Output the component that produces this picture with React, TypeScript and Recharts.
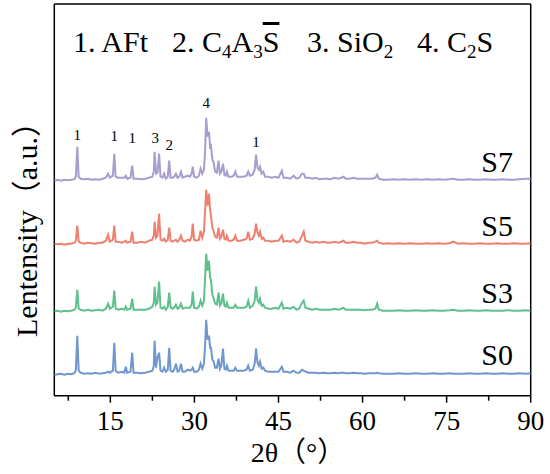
import { LineChart, Line, XAxis, YAxis, ReferenceDot, ReferenceLine } from "recharts";

// 2θ positions (degrees) shared by all four patterns
const twoTheta = [
  5, 5.6, 6.2, 6.8, 7.4, 8.0, 8.6, 8.85, 9.1, 9.35, 9.7, 10.3, 11.0, 11.6, 12.3, 13.0, 13.6, 14.2, 14.6, 14.9,
  15.45, 15.7, 15.95, 16.4, 17.0, 17.5, 17.75, 18.0, 18.6, 18.9, 19.15, 19.8, 20.5, 21.2, 21.9, 22.5, 22.75, 22.9, 23.15, 23.4,
  23.7, 23.95, 24.3, 24.6, 24.9, 25.25, 25.5, 25.75, 26.1, 26.4, 26.7, 27.0, 27.3, 27.6, 27.9, 28.3, 28.8, 29.2, 29.5, 29.7,
  29.95, 30.4, 30.8, 31.1, 31.4, 31.7, 31.9, 32.1, 32.35, 32.6, 32.8, 32.95, 33.2, 33.4, 33.7, 34.0, 34.3, 34.55, 34.8, 35.1,
  35.35, 35.6, 35.8, 36.1, 36.6, 37.0, 37.3, 37.6, 38.2, 38.8, 39.3, 39.6, 39.9, 40.4, 40.75, 41.0, 41.25, 41.5, 41.7, 42.0,
  42.3, 42.6, 43.2, 43.8, 44.4, 45.0, 45.6, 45.9, 46.5, 47.1, 47.7, 48.2, 48.7, 49.2, 49.5, 49.8, 50.4, 51.0, 51.7, 52.3,
  53.0, 53.7, 54.3, 55.0, 55.7, 56.2, 56.6, 57.0, 57.7, 58.4, 59.0, 59.7, 60.4, 61.0, 61.7, 62.3, 62.6, 62.9, 63.6, 64.5,
  65.5, 66.5, 67.5, 68.5, 69.5, 70.5, 71.5, 72.5, 73.5, 74.5, 75.5, 76.2, 77.0, 78.0, 79.0, 80.0, 81.0, 82.0, 83.0, 84.0,
  85.0, 86.0, 87.0, 88.0, 89.0, 90.0,
];

const intensityS0 = [
  1, 1.5, 2, 1, 2, 1.5, 2.5, 6, 40, 5, 3, 2, 2.5, 2, 3, 2, 2.5, 3, 4, 3,
  5, 33, 5, 3, 4, 3, 9, 3, 4, 23, 3, 3, 2.5, 3, 4, 5, 10, 35, 8, 18,
  23, 5, 4, 8, 4, 6, 28, 5, 4, 6, 12, 4, 5, 12, 4, 4, 6, 5, 6, 8,
  4, 4, 6, 12, 7, 12, 30, 56, 36, 40, 28, 28, 16, 15, 8, 8, 17, 7, 10, 27,
  7, 6, 10, 5, 5, 5, 8, 5, 5, 5, 6, 10, 5, 6, 12, 27, 13, 10, 14, 7,
  8, 5, 4, 4, 4, 4, 9, 4, 4, 3, 5, 3, 3, 6, 5, 4, 3, 3, 3, 2.5,
  3, 2.5, 2.5, 3, 2.5, 3, 3, 2.5, 2.5, 3, 2.5, 2.5, 2, 2.5, 2.5, 2.5, 3, 2.5, 2, 2,
  2, 2.5, 2, 2, 2.5, 2, 2, 2.5, 2, 2, 2.5, 2, 2, 2, 2.5, 2, 2, 2.5, 2, 2,
  2.5, 2, 2, 2.5, 2, 2.5,
];

const intensityS3 = [
  1.5, 2, 1, 2, 1.5, 2, 3, 5, 23, 4, 3, 2, 3, 2, 2.5, 3, 2, 4, 9, 4,
  6, 22, 4, 3, 4, 3, 6, 3, 4, 14, 3, 3, 3, 3, 4, 6, 10, 26, 8, 10,
  31, 5, 4, 6, 3, 6, 20, 5, 4, 5, 8, 4, 5, 9, 4, 5, 5, 5, 8, 21,
  5, 4, 6, 12, 7, 12, 34, 59, 42, 52, 35, 33, 18, 15, 9, 8, 20, 7, 9, 19,
  7, 6, 10, 5, 5, 5, 8, 5, 5, 5, 6, 12, 5, 7, 12, 26, 13, 10, 14, 7,
  8, 5, 4, 4, 5, 4, 10, 4, 5, 4, 6, 3, 4, 10, 12, 5, 4, 3, 4, 3,
  3, 3, 3, 4, 3, 4, 5, 3, 3, 3, 3, 3, 2.5, 3, 3, 4, 9, 3, 2, 2,
  2, 2.5, 2, 2, 2.5, 2, 2, 2.5, 2, 2, 2.5, 3, 2, 2, 2.5, 2, 2, 2.5, 2, 2,
  2, 2.5, 2, 2, 2.5, 2,
];

const intensityS5 = [
  2, 1.5, 2, 1, 2, 2, 3, 5, 20, 4, 3, 2, 3, 2.5, 2, 3, 3, 5, 11, 4,
  6, 20, 4, 4, 3, 4, 5, 3, 4, 14, 3, 3, 4, 3, 5, 6, 10, 24, 8, 10,
  32, 6, 5, 7, 4, 6, 18, 5, 4, 5, 6, 4, 6, 10, 5, 4, 6, 5, 9, 22,
  6, 5, 6, 15, 8, 14, 35, 56, 40, 52, 36, 30, 18, 15, 9, 8, 18, 7, 9, 16,
  7, 6, 10, 5, 5, 6, 10, 5, 5, 6, 7, 14, 6, 7, 12, 22, 13, 10, 14, 7,
  8, 5, 5, 4, 5, 5, 10, 4, 5, 4, 6, 3, 4, 10, 14, 5, 4, 3, 4, 3,
  4, 3, 3, 4, 3, 4, 5, 3, 3, 4, 3, 3, 2, 3, 3, 4, 5, 3, 2, 2.5,
  2, 2.5, 2, 2.5, 2, 2, 2.5, 2, 2.5, 2, 2.5, 4, 2, 2.5, 2, 2, 2.5, 2, 2, 2.5,
  2, 2, 2.5, 2, 2, 2.5,
];

const intensityS7 = [
  1, 2, 1, 2, 1.5, 2, 2.5, 5, 35, 5, 3, 2.5, 3, 2, 2.5, 2, 3, 4, 8, 4,
  6, 28, 5, 4, 4, 4, 6, 3, 4, 16, 3, 3, 2.5, 3, 4, 5, 10, 30, 8, 9,
  28, 5, 4, 8, 3, 5, 21, 4, 4, 5, 8, 4, 5, 10, 4, 5, 6, 5, 8, 15,
  5, 4, 6, 13, 8, 12, 30, 64, 45, 50, 35, 36, 22, 20, 10, 9, 21, 8, 10, 18,
  7, 6, 10, 5, 5, 6, 10, 5, 5, 5, 6, 10, 6, 7, 12, 27, 14, 12, 15, 8,
  10, 5, 5, 4, 5, 4, 11, 4, 4, 3, 6, 3, 4, 8, 8, 4, 4, 3, 4, 2.5,
  3, 3, 2.5, 4, 3, 4, 5, 3, 3, 4, 3, 3, 3, 3, 3, 4, 7, 3, 2, 2,
  2.5, 2, 2.5, 2, 2.5, 2, 2.5, 2, 2.5, 2, 2.5, 3, 2, 2, 2.5, 2, 2, 2.5, 2, 2,
  2.5, 2, 2, 2.5, 3, 3,
];

const sampleNames = ["S0", "S3", "S5", "S7"];
const sampleSeries = [intensityS0, intensityS3, intensityS5, intensityS7];
const sampleOffsets = [20, 83, 150, 214];
const sampleColors = ["#6f97cf", "#5fc08e", "#ef8070", "#a99ccf"];
const sampleLabelAngle = 84;
const sampleLabelLevels = [30.7, 92.4, 160, 224];

const peakLabelAngles = [9.1, 15.7, 18.9, 23.0, 25.5, 32.1, 41.0];
const peakLabelTexts = ["1", "1", "1", "3", "2", "4", "1"];
const peakLabelLevels = [256, 255, 253, 253, 246, 288, 249];

const xTicks = [7.5, 15, 22.5, 30, 37.5, 45, 52.5, 60, 67.5, 75, 82.5, 90];
const xDomain = [5, 90];
const yDomain = [0, 391.7];

const rows = twoTheta.map((t, i) => {
  const row: Record<string, number> = { t };
  sampleNames.forEach((name, k) => {
    row[name] = sampleOffsets[k] + sampleSeries[k][i];
  });
  return row;
});

const serif = "'Liberation Serif', 'Times New Roman', 'Noto Sans CJK SC', serif";

function AngleTick({ x, y, payload }: any) {
  const major = payload.value % 15 === 0;
  return (
    <g>
      <line x1={x} x2={x} y1={y} y2={y + (major ? 7 : 5)} stroke="#000" strokeWidth={1.5} />
      {major && (
        <text x={x} y={y + 34} textAnchor="middle" fontSize={27} fontFamily={serif} fill="#000">
          {payload.value}
        </text>
      )}
    </g>
  );
}

function TextMark({ cx, cy, text, size }: any) {
  return (
    <text x={cx} y={cy} textAnchor="middle" fontSize={size} fontFamily={serif} fill="#000">
      {text}
    </text>
  );
}

export default function App() {
  return (
    <div style={{ position: "absolute", left: 0, top: 0, width: 550, height: 474, background: "#fff" }}>
      <LineChart
        width={550}
        height={474}
        data={rows}
        margin={{ top: 4, right: 19.3, bottom: 0, left: 54.3 }}
      >
        <XAxis
          dataKey="t"
          type="number"
          domain={xDomain}
          ticks={xTicks}
          interval={0}
          height={78.3}
          tickSize={0}
          tickMargin={0}
          tickLine={false}
          tick={<AngleTick />}
          axisLine={{ stroke: "#000", strokeWidth: 1.5 }}
          allowDataOverflow
        />
        <YAxis yAxisId="main" type="number" domain={yDomain} hide allowDataOverflow />
        {/* frame: left, right, top */}
        <ReferenceLine yAxisId="main" x={xDomain[0]} stroke="#000" strokeWidth={1.5} />
        <ReferenceLine yAxisId="main" x={xDomain[1]} stroke="#000" strokeWidth={1.5} />
        <ReferenceLine yAxisId="main" y={yDomain[1]} stroke="#000" strokeWidth={1.5} />
        {sampleNames.map((name, k) => (
          <Line
            key={name}
            yAxisId="main"
            dataKey={name}
            type="linear"
            stroke={sampleColors[k]}
            strokeWidth={2}
            dot={false}
            activeDot={false}
            isAnimationActive={false}
          />
        ))}
        {peakLabelAngles.map((a, i) => (
          <ReferenceDot
            key={"p" + i}
            yAxisId="main"
            x={a}
            y={peakLabelLevels[i]}
            r={0}
            shape={(p: any) => <TextMark cx={p.cx} cy={p.cy} text={peakLabelTexts[i]} size={15} />}
          />
        ))}
        {sampleNames.map((name, k) => (
          <ReferenceDot
            key={"s" + name}
            yAxisId="main"
            x={sampleLabelAngle}
            y={sampleLabelLevels[k]}
            r={0}
            shape={(p: any) => <TextMark cx={p.cx} cy={p.cy} text={name} size={30} />}
          />
        ))}
      </LineChart>
      <svg
        width={550}
        height={474}
        style={{ position: "absolute", left: 0, top: 0, pointerEvents: "none" }}
        fontFamily={serif}
      >
        <text x={73} y={52} fontSize={30}>1. AFt</text>
        <text x={172} y={52} fontSize={30}>
          2. C<tspan fontSize={19} dy={6}>4</tspan>
          <tspan dy={-6}>A</tspan>
          <tspan fontSize={19} dy={6}>3</tspan>
          <tspan dy={-6} style={{ textDecoration: "overline" }}>S</tspan>
        </text>
        <text x={307} y={52} fontSize={30}>
          3. SiO<tspan fontSize={19} dy={6}>2</tspan>
        </text>
        <text x={417} y={52} fontSize={30}>
          4. C<tspan fontSize={19} dy={6}>2</tspan>
          <tspan dy={-6}>S</tspan>
        </text>
        <text x={298} y={462} fontSize={28} textAnchor="middle">2θ（°）</text>
        <text transform="rotate(-90)" x={-222} y={37} fontSize={30} textAnchor="middle">
          Lentensity（a.u.）
        </text>
      </svg>
    </div>
  );
}
